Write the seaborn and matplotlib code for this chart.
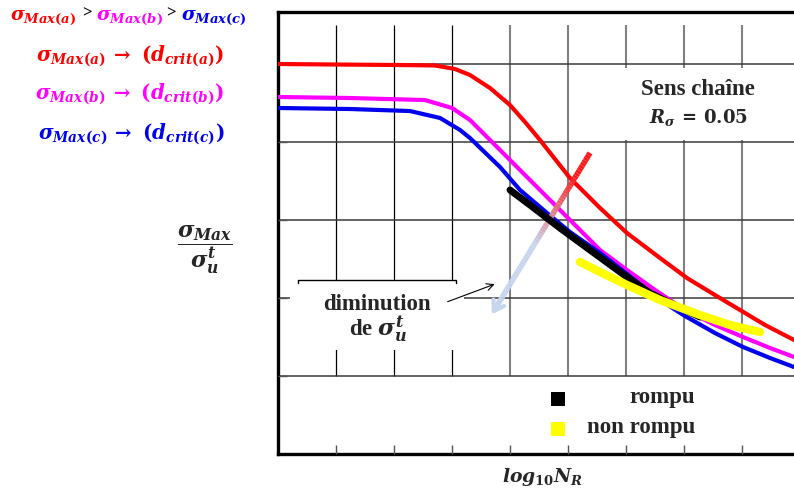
import numpy as np
import pandas as pd
import matplotlib
matplotlib.use("Agg")
import matplotlib.pyplot as plt
from matplotlib.collections import LineCollection
from matplotlib.patches import Rectangle
from matplotlib.colors import to_rgb
import seaborn as sns

# ---------------- data ----------------
red_x = [0.0, 0.897, 2.103, 2.707, 3.052, 3.310, 3.655, 4.0, 4.259, 4.517, 5.034, 5.552, 6.017, 6.586, 7.052, 7.534, 7.966, 8.397, 8.897]
red_y = [5.0, 4.994, 4.987, 4.981, 4.936, 4.859, 4.692, 4.474, 4.256, 4.026, 3.538, 3.154, 2.833, 2.513, 2.256, 2.038, 1.846, 1.654, 1.462]

mag_x = [0.0, 1.241, 2.534, 3.0, 3.310, 3.655, 4.172, 4.741, 5.207, 5.552, 6.017, 6.5, 7.017, 7.534, 8.017, 8.483, 8.897]
mag_y = [4.577, 4.564, 4.538, 4.436, 4.282, 4.026, 3.641, 3.218, 2.872, 2.615, 2.359, 2.103, 1.846, 1.654, 1.5, 1.359, 1.244]

blue_x = [0.0, 1.241, 2.276, 2.793, 3.138, 3.310, 3.828, 4.172, 4.638, 5.034, 5.552, 6.017, 6.586, 7.017, 7.534, 8.017, 8.483, 8.897]
blue_y = [4.436, 4.423, 4.397, 4.308, 4.154, 4.051, 3.679, 3.385, 3.090, 2.846, 2.577, 2.308, 1.974, 1.769, 1.551, 1.372, 1.231, 1.115]

rompu_x = [4.0, 4.345, 4.862, 5.379, 6.017, 6.414, 6.759, 7.276]
rompu_y = [3.385, 3.192, 2.897, 2.615, 2.269, 2.064, 1.936, 1.756]

nonrompu_x = [5.207, 5.552, 6.017, 6.586, 7.276, 7.793, 8.310]
nonrompu_y = [2.462, 2.333, 2.167, 1.974, 1.782, 1.654, 1.564]

legend_labels = ["rompu", "non rompu"]

# annotation geometry (data units)
grad_start = (5.38, 3.86)
grad_end = (3.66, 1.76)
note_from = (2.88, 1.94)
note_to = (3.78, 2.19)

# ---------------- style ----------------
sns.set_style("white")
plt.rcParams["font.family"] = ["Liberation Serif", "DejaVu Serif"]
plt.rcParams["font.weight"] = "bold"
plt.rcParams["mathtext.fontset"] = "custom"
plt.rcParams["mathtext.rm"] = "DejaVu Serif:bold"
plt.rcParams["mathtext.it"] = "DejaVu Serif:italic:bold"
plt.rcParams["mathtext.bf"] = "DejaVu Serif:bold"

W, H = 794, 495
fig = plt.figure(figsize=(W / 100, H / 100), dpi=100)
ax = fig.add_axes([278 / W, 1 - 454 / H, 1 - 278 / W, (454 - 12) / H])
XMAX, YMAX = 516 / 58, (454 - 12) / 78
ax.set_xlim(0, XMAX)
ax.set_ylim(0, YMAX)


def fp(x, y):
    return x / W, 1 - y / H


# grid drawn by hand (vertical lines stop above the lower band)
for gx in range(1, 9):
    col = "black" if gx <= 3 else "#808080"
    lw = 0.9 if gx <= 3 else 1.5
    ax.vlines(gx, 1.0, 5.5, colors=col, lw=lw, zorder=1)
for gy in range(1, 6):
    ax.axhline(gy, color="#3a3a3a", lw=1.1, zorder=1)

# white boxes behind annotations
ax.add_patch(Rectangle((0.2, 1.33), 3.0, 0.9, facecolor="white", edgecolor="none", zorder=1.2))
ax.add_patch(Rectangle((5.67, 4.03), XMAX - 5.67, 0.92, facecolor="white", edgecolor="none", zorder=1.2))
ax.plot([0.35, 0.35, 3.07, 3.07], [2.19, 2.23, 2.23, 2.19], color="black", lw=1.0, zorder=1.3)

# axes frame
for s in ["left", "bottom", "top"]:
    ax.spines[s].set_visible(True)
    ax.spines[s].set_color("black")
    ax.spines[s].set_linewidth(2.4)
ax.spines["right"].set_visible(False)
ax.set_axisbelow(False)
ax.set_xticks(range(1, 9))
ax.set_yticks(range(1, 6))
ax.set_xticklabels([])
ax.set_yticklabels([])
ax.tick_params(direction="in", length=6.5, width=1.0, color="#555555", bottom=True, left=True)
ax.set_xlabel("")
ax.set_ylabel("")

# curves
sns.lineplot(x=red_x, y=red_y, sort=False, color="#ff0000", lw=3.0, ax=ax, zorder=3)
sns.lineplot(x=mag_x, y=mag_y, sort=False, color="#ff00ff", lw=3.0, ax=ax, zorder=3)
sns.lineplot(x=blue_x, y=blue_y, sort=False, color="#0000ee", lw=3.0, ax=ax, zorder=3.1)
sns.lineplot(x=rompu_x, y=rompu_y, sort=False, color="black", lw=5.0, ax=ax, zorder=4)
sns.lineplot(x=nonrompu_x, y=nonrompu_y, sort=False, color="#ffff00", lw=6.0, ax=ax, zorder=5)

# gradient arrow (red -> light blue)
n = 60
t = np.linspace(0, 1, n + 1)
px = grad_start[0] + (grad_end[0] - grad_start[0]) * t * 0.93
py = grad_start[1] + (grad_end[1] - grad_start[1]) * t * 0.93
red = np.array(to_rgb("#ff1a1a"))
lb = np.array(to_rgb("#c6d6ef"))
segs = [[(px[i], py[i]), (px[i + 1], py[i + 1])] for i in range(n)]
cols = []
for i in range(n):
    tt = (t[i] + t[i + 1]) / 2
    w = np.clip((tt - 0.15) / 0.45, 0, 1)
    cols.append(tuple(red * (1 - w) + lb * w))
lc = LineCollection(segs, colors=cols, linewidths=4.0, zorder=3.5, capstyle="butt")
ax.add_collection(lc)
ax.annotate("", xy=grad_end, xytext=(px[-1] + 0.05 * (grad_start[0] - grad_end[0]), py[-1] + 0.05 * (grad_start[1] - grad_end[1])),
            arrowprops=dict(arrowstyle="->,head_length=0.7,head_width=0.45", color="#c6d6ef", lw=3.0),
            zorder=3.5)

# thin pointer arrow
ax.annotate("", xy=note_to, xytext=note_from,
            arrowprops=dict(arrowstyle="->,head_length=0.5,head_width=0.25", color="black", lw=0.8), zorder=6)

# texts inside axes
def dx(px_):
    return (px_ - 278) / 58


def dy(py_):
    return (454 - py_) / 78


ax.text(dx(377), dy(310), "diminution", ha="center", va="baseline", fontsize=16.5, fontweight="bold", zorder=6)
ax.text(dx(378), dy(337), r"de $\sigma_u^t$", ha="center", va="baseline", fontsize=16.5, fontweight="bold", zorder=6)
ax.text(dx(698), dy(95), "Sens chaîne", ha="center", va="baseline", fontsize=16.5, fontweight="bold", zorder=6)
ax.text(dx(698), dy(123), r"$R_\sigma\,=\,0.05$", ha="center", va="baseline", fontsize=13, zorder=6)

# legend (squares + labels)
ax.scatter([dx(558)], [dy(399)], marker="s", s=100, color="black", zorder=6, linewidths=0)
ax.scatter([dx(558)], [dy(429)], marker="s", s=100, color="#ffff00", zorder=6, linewidths=0)
ax.text(dx(695), dy(398), legend_labels[0], ha="right", va="center", fontsize=16.5, fontweight="bold", zorder=6)
ax.text(dx(695), dy(427), legend_labels[1], ha="right", va="center", fontsize=16.5, fontweight="bold", zorder=6)

# axis labels
fig.text(*fp(542, 482), r"$log_{10}N_R$", ha="center", va="baseline", fontsize=13.5)
fig.text(*fp(205, 250), r"$\dfrac{\sigma_{Max}}{\sigma_u^t}$", ha="center", va="center", fontsize=16)

# top-left annotations
fs1 = 13.5
fig.text(*fp(10, 20), r"$\sigma_{Max(a)}$", color="#ff0000", fontsize=fs1, va="baseline")
fig.text(*fp(82, 17), ">", color="black", fontsize=12, va="baseline")
fig.text(*fp(96, 20), r"$\sigma_{Max(b)}$", color="#ff00ff", fontsize=fs1, va="baseline")
fig.text(*fp(166, 17), ">", color="black", fontsize=12, va="baseline")
fig.text(*fp(181, 20), r"$\sigma_{Max(c)}$", color="#0000ee", fontsize=fs1, va="baseline")

fs = 14.2
fig.text(*fp(130, 61), r"$\sigma_{Max(a)}\,\rightarrow\,\,(d_{crit(a)})$", color="#ff0000", fontsize=fs, va="baseline", ha="center")
fig.text(*fp(130, 99), r"$\sigma_{Max(b)}\,\rightarrow\,\,(d_{crit(b)})$", color="#ff00ff", fontsize=fs, va="baseline", ha="center")
fig.text(*fp(131, 139), r"$\sigma_{Max(c)}\,\rightarrow\,\,(d_{crit(c)})$", color="#0000ee", fontsize=fs, va="baseline", ha="center")

fig.savefig("out.png", dpi=100)
